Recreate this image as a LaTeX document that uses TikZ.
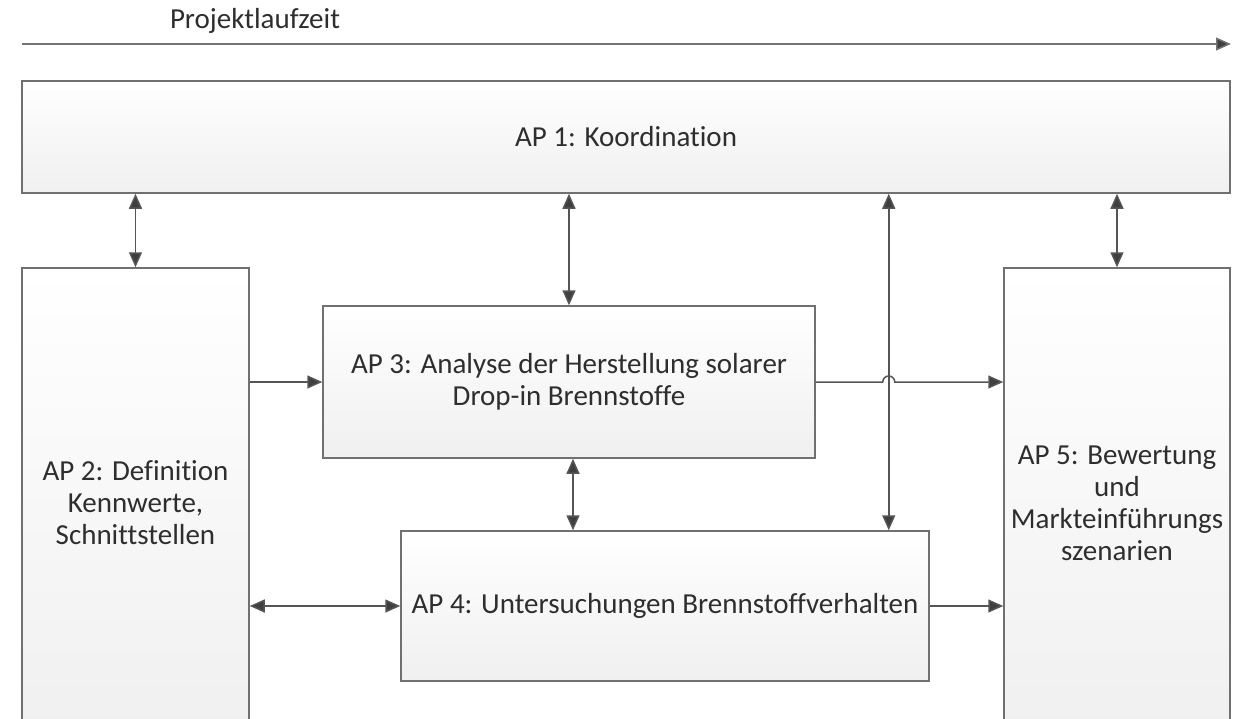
\documentclass[tikz,border=0pt]{standalone}
\usepackage{fontspec}
\setmainfont[Ligatures={NoCommon}]{Carlito}
\usepackage{xcolor}
\usetikzlibrary{arrows.meta, positioning, calc}
\definecolor{boxline}{HTML}{707070}
\definecolor{boxtext}{HTML}{2E2E2E}
\definecolor{arrline}{HTML}{555555}
\definecolor{arrhead}{HTML}{3F3F3F}
\tikzset{
    apbox/.style={draw=boxline, line width=1.5pt, top color=white, bottom color=black!6,
        text=boxtext, align=center, font=\fontsize{29}{32}\selectfont, inner sep=0pt},
    conn/.style={draw=arrline, line width=1.5pt,
        -{Triangle[length=15pt, width=13pt, fill=arrhead]}},
    dconn/.style={conn, {Triangle[length=15pt, width=13pt, fill=arrhead]}-{Triangle[length=15pt, width=13pt, fill=arrhead]}}
}

\begin{document}
\begin{tikzpicture}[x=1pt, y=-1pt]
    \useasboundingbox (0,0) rectangle (1243,718);

    % Zeitachse
    \node[text=boxtext, font=\fontsize{29}{32}\selectfont] (zeit) at (255,21) {Projektlaufzeit};
    \coordinate (zeitstart) at (22,44);
    \coordinate (zeitende) at (1231,44);
    \draw[conn, draw=black!55] (zeitstart) -- (zeitende);

    % Arbeitspakete
    \node[apbox, minimum width=1208pt, minimum height=112pt] (ap1) at (626,137) {AP 1: Koordination};
    \node[apbox, minimum width=227pt, minimum height=470pt] (ap2) at (135.5,503) {AP 2: Definition\\Kennwerte,\\Schnittstellen};
    \node[apbox, minimum width=492pt, minimum height=152pt] (ap3) at (569,382) {AP 3: Analyse der Herstellung solarer\\Drop-in Brennstoffe};
    \node[apbox, minimum width=528pt, minimum height=150pt] (ap4) at (665,606) {AP 4: Untersuchungen Brennstoffverhalten};
    \node[apbox, minimum width=226pt, minimum height=470pt] (ap5) at (1117,503) {AP 5: Bewertung\\und\\Markteinf\"uhrungs\\szenarien};

    % Verbindungen
    \draw[dconn] (ap1.south -| ap2.north) -- (ap2.north);
    \draw[dconn] (ap1.south -| ap3.north) -- (ap3.north);
    \draw[dconn] (ap1.south -| ap5.north) -- (ap5.north);
    \draw[dconn] ($(ap3.south)+(4,0)$) -- ($(ap3.south |- ap4.north)+(4,0)$);
    \coordinate (ap4oben) at ($(ap4.north east)+(-41,0)$);
    \draw[dconn] (ap1.south -| ap4oben) -- (ap4oben);
    \coordinate (sprung) at (ap3.east -| ap4oben);
    \draw[conn] (ap2.east |- ap3.west) -- (ap3.west);
    \draw[conn] (ap3.east) -- ($(sprung)+(-6,0)$) arc[start angle=180, end angle=0, radius=6pt] -- (ap3.east -| ap5.west);
    \draw[dconn] (ap2.east |- ap4.west) -- (ap4.west);
    \draw[conn] (ap4.east) -- (ap4.east -| ap5.west);
\end{tikzpicture}
\end{document}
